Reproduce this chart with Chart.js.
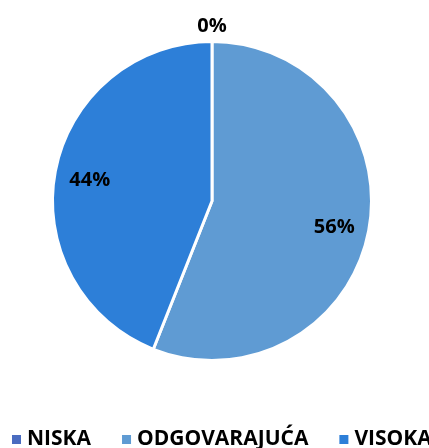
<!DOCTYPE html>
<html>
<head>
<meta charset="utf-8">
<script src="https://cdn.jsdelivr.net/npm/chart.js@4"></script>
<style>
  html, body { margin: 0; padding: 0; background: #fff; }
  #wrap { width: 429px; height: 448px; }
</style>
</head>
<body>
<div id="wrap"><canvas id="grafico"></canvas></div>
<script>
// Dados
const categorias = ['NISKA', 'ODGOVARAJUĆA', 'VISOKA'];
const valores = [0, 56, 44];
const rotulos = ['0%', '56%', '44%'];
const cores = ['#4a6cc0', '#5f9bd3', '#2d7fd8'];

// rótulos dentro / fora das fatias
const rotulosPlugin = {
  id: 'rotulos',
  afterDatasetsDraw(chart) {
    const ctx = chart.ctx;
    const meta = chart.getDatasetMeta(0);
    ctx.save();
    ctx.font = 'bold 20px "Open Sans", sans-serif';
    ctx.fillStyle = '#000';
    ctx.textAlign = 'center';
    ctx.textBaseline = 'middle';
    meta.data.forEach((arc, i) => {
      const p = arc.getProps(['x', 'y', 'startAngle', 'endAngle', 'outerRadius'], true);
      const ang = (p.startAngle + p.endAngle) / 2;
      const dist = valores[i] === 0 ? p.outerRadius + 18 : p.outerRadius * 0.78;
      ctx.fillText(rotulos[i], p.x + Math.cos(ang) * dist, p.y + Math.sin(ang) * dist + 3);
    });
    ctx.restore();
  }
};

// legenda numa linha só (a do Chart.js quebra)
const legendaPlugin = {
  id: 'legenda',
  afterDraw(chart) {
    const ctx = chart.ctx;
    const y = chart.height - 9;
    let x = 12;
    ctx.save();
    ctx.font = 'bold 21px "Open Sans", sans-serif';
    ctx.textBaseline = 'middle';
    categorias.forEach((c, i) => {
      ctx.fillStyle = cores[i];
      ctx.fillRect(x, y - 4, 9, 9);
      x += 15;
      ctx.fillStyle = '#000';
      ctx.fillText(c, x, y);
      x += ctx.measureText(c).width + 31;
    });
    ctx.restore();
  }
};

new Chart(document.getElementById('grafico'), {
  type: 'pie',
  data: {
    labels: categorias,
    datasets: [{
      data: valores,
      backgroundColor: cores,
      borderColor: '#fff',
      borderWidth: 3
    }]
  },
  options: {
    responsive: true,
    maintainAspectRatio: false,
    animation: false,
    layout: { padding: { top: 40, bottom: 86, left: 0, right: 5 } },
    plugins: {
      tooltip: { enabled: false },
      legend: { display: false }
    }
  },
  plugins: [rotulosPlugin, legendaPlugin]
});
</script>
</body>
</html>
